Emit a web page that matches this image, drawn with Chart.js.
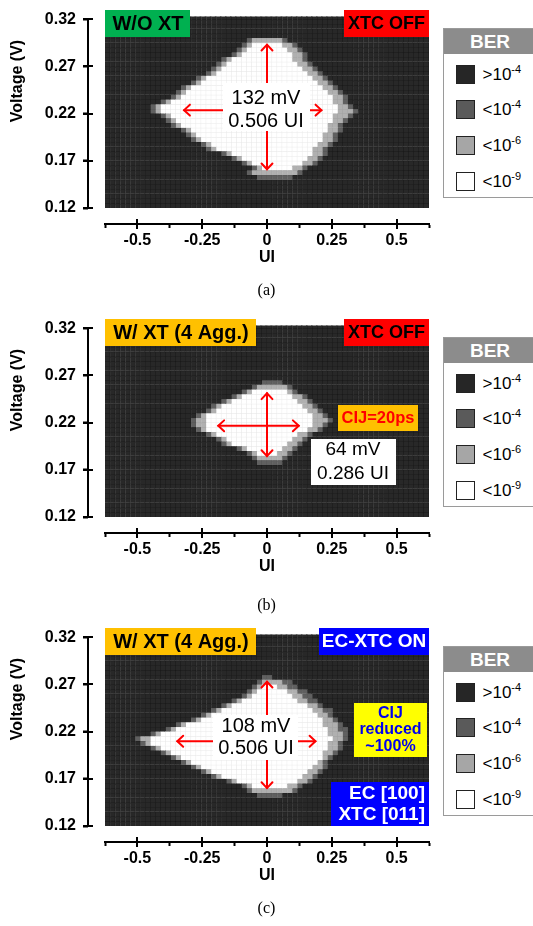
<!DOCTYPE html>
<html>
<head>
<meta charset="utf-8">
<script src="https://cdn.jsdelivr.net/npm/chart.js@4.4.1/dist/chart.umd.min.js"></script>
<style>
  html, body { margin: 0; padding: 0; background: #fff; }
  body { width: 533px; height: 926px; overflow: hidden; position: relative; font-family: "Liberation Sans", Arial, sans-serif; }
  .panel { position: absolute; left: 0; width: 533px; height: 309px; }
  .panel canvas { position: absolute; left: 0; top: 0; }
  .legend { position: absolute; left: 443px; top: 28px; width: 94px; height: 170px; border: 1.5px solid #9a9a9a; box-sizing: border-box; background: #fff; }
  .legend .hd { height: 25px; background: #8c8c8c; color: #fff; font-weight: bold; font-size: 19px; text-align: center; line-height: 26px; }
  .legend .it { position: absolute; left: 0; height: 19px; width: 92px; font-size: 17px; line-height: 19px; color: #000; }
  .legend .sw { position: absolute; left: 11.5px; top: 0; width: 19px; height: 19px; border: 1.5px solid #222; box-sizing: border-box; }
  .legend .tx { position: absolute; left: 38.5px; top: 0; white-space: nowrap; }
  .legend sup { font-size: 11px; vertical-align: 7px; line-height: 0; }
  .cap { position: absolute; left: 0; width: 533px; text-align: center; font-family: "Liberation Serif", serif; font-size: 16px; line-height: 18px; }
</style>
</head>
<body>
<script>
// grid of the BER scan
const nCols = 64;
const vStep = 0.005;
const vMin = 0.12;
const vMax = 0.3228;
const xTicks = [-0.5, -0.25, 0, 0.25, 0.5];
const yTicks = [0.12, 0.17, 0.22, 0.27, 0.32];

// legend
const berSign = ['>', '<', '<', '<'];
const berExp = ['-4', '-4', '-6', '-9'];
const berColor = ['#262626', '#5a5a5a', '#a6a6a6', '#ffffff'];
const cellColor = ['#282828', '#606060', '#b0b0b0', '#ffffff'];
const cellLine = ['#1c1c1c', '#555555', '#a2a2a2', '#e8e8e8'];

// eye rows (row 0 = top, 5 mV each): [row, <1e-4 from, to, <1e-6 from, to, <1e-9 from, to] in columns
const eyeA = [
  [4, 28, 35, 29, 34, null, null],
  [5, 27, 37, 28, 36, 29, 34],
  [6, 26, 38, 27, 37, 28, 35],
  [7, 25, 39, 26, 38, 27, 36],
  [8, 23, 39, 24, 38, 25, 36],
  [9, 22, 40, 23, 39, 24, 37],
  [10, 21, 41, 22, 40, 23, 38],
  [11, 20, 42, 21, 41, 22, 39],
  [12, 18, 43, 19, 42, 20, 40],
  [13, 17, 44, 18, 43, 19, 41],
  [14, 15, 45, 16, 44, 17, 42],
  [15, 14, 46, 15, 45, 16, 43],
  [16, 13, 47, 14, 46, 15, 44],
  [17, 11, 47, 12, 46, 13, 44],
  [18, 9, 48, 10, 47, 11, 45],
  [19, 9, 49, 10, 48, 11, 45],
  [20, 11, 48, 12, 47, 13, 44],
  [21, 12, 47, 13, 46, 14, 44],
  [22, 13, 46, 14, 45, 15, 43],
  [23, 15, 46, 16, 45, 17, 43],
  [24, 16, 45, 17, 44, 18, 42],
  [25, 17, 45, 18, 44, 19, 42],
  [26, 19, 44, 20, 43, 21, 41],
  [27, 20, 43, 21, 42, 22, 40],
  [28, 23, 43, 24, 42, 25, 40],
  [29, 25, 42, 26, 41, 27, 39],
  [30, 27, 41, 28, 40, 29, 38],
  [31, 29, 39, 30, 38, 31, 36],
  [32, 28, 38, 29, 37, null, null],
  [33, 30, 36, null, null, null, null]
];

const eyeB = [
  [11, 31, 34, null, null, null, null],
  [12, 29, 36, 30, 35, null, null],
  [13, 27, 37, 28, 36, 29, 35],
  [14, 25, 39, 26, 38, 27, 36],
  [15, 23, 40, 24, 39, 25, 37],
  [16, 21, 41, 22, 40, 23, 38],
  [17, 20, 42, 21, 41, 22, 39],
  [18, 18, 43, 19, 42, 20, 40],
  [19, 17, 44, 18, 43, 20, 40],
  [20, 17, 43, 18, 42, 20, 40],
  [21, 18, 42, 19, 41, 20, 39],
  [22, 20, 40, 21, 39, 22, 37],
  [23, 22, 39, 23, 38, 24, 36],
  [24, 23, 38, 24, 37, 25, 35],
  [25, 26, 37, 27, 36, 28, 34],
  [26, 28, 36, 29, 35, 30, 33],
  [27, 29, 35, 30, 34, null, null],
  [28, 30, 34, null, null, null, null]
];

const eyeC = [
  [8, 31, 32, null, null, null, null],
  [9, 30, 36, 31, 34, null, null],
  [10, 29, 37, 30, 35, 31, 33],
  [11, 28, 39, 29, 37, 30, 35],
  [12, 27, 40, 28, 38, 29, 36],
  [13, 25, 41, 26, 39, 27, 37],
  [14, 23, 42, 24, 41, 25, 39],
  [15, 21, 44, 22, 42, 23, 40],
  [16, 19, 44, 20, 43, 21, 41],
  [17, 17, 45, 18, 44, 19, 42],
  [18, 14, 46, 15, 45, 16, 42],
  [19, 12, 47, 13, 45, 14, 43],
  [20, 9, 47, 10, 46, 11, 43],
  [21, 6, 47, 7, 46, 9, 44],
  [22, 7, 46, 8, 45, 9, 43],
  [23, 9, 46, 10, 45, 11, 43],
  [24, 11, 45, 12, 44, 13, 42],
  [25, 13, 44, 14, 43, 15, 42],
  [26, 15, 43, 16, 42, 17, 41],
  [27, 17, 43, 18, 42, 19, 40],
  [28, 19, 42, 20, 41, 21, 39],
  [29, 21, 41, 22, 40, 23, 38],
  [30, 24, 40, 25, 39, 26, 37],
  [31, 27, 38, 28, 37, 29, 35],
  [32, 28, 37, 29, 36, null, null],
  [33, 30, 34, null, null, null, null]
];

// measurement arrows [x0 (UI), y0 (V), x1, y1]
const arrowsA = [[-0.32, 0.2237, 0.21, 0.2237], [0, 0.2931, 0, 0.161]];
const arrowsB = [[-0.188, 0.2166, 0.1225, 0.2166], [0, 0.2511, 0, 0.1845]];
const arrowsC = [[-0.346, 0.2098, 0.187, 0.2098], [0, 0.2729, 0, 0.1602]];

const F = '"Liberation Sans", Arial, sans-serif';

const panels = [
  {
    top: 0, eye: eyeA, arrows: arrowsA, caption: '(a)', capY: 281,
    boxes: [
      { x: 105, y: 10, w: 85, h: 27, bg: '#00b050', color: '#000', font: 'bold 20px ' + F, lines: ['W/O XT'], tx: 148, ty: [24] },
      { x: 344, y: 10, w: 85, h: 27, bg: '#ff0000', color: '#000', font: 'bold 18px ' + F, lines: ['XTC OFF'], tx: 386.5, ty: [24] },
      { x: 223, y: 83, w: 87, h: 48, bg: '#ffffff', color: '#000', font: '20px ' + F, lines: ['132 mV', '0.506 UI'], tx: 266, ty: [98, 121] }
    ]
  },
  {
    top: 309, eye: eyeB, arrows: arrowsB, caption: '(b)', capY: 287,
    boxes: [
      { x: 105, y: 10, w: 151, h: 27, bg: '#ffc000', color: '#000', font: 'bold 20px ' + F, lines: ['W/ XT (4 Agg.)'], tx: 181, ty: [24] },
      { x: 344, y: 10, w: 85, h: 27, bg: '#ff0000', color: '#000', font: 'bold 18px ' + F, lines: ['XTC OFF'], tx: 386.5, ty: [24] },
      { x: 338, y: 96, w: 80, h: 26, bg: '#ffc000', color: '#ff0000', font: 'bold 16.5px ' + F, lines: ['CIJ=20ps'], tx: 378, ty: [109] },
      { x: 311, y: 130, w: 85, h: 46, bg: '#ffffff', color: '#000', font: '19px ' + F, lines: ['64 mV', '0.286 UI'], tx: 353, ty: [141, 164.5] }
    ]
  },
  {
    top: 618, eye: eyeC, arrows: arrowsC, caption: '(c)', capY: 281,
    boxes: [
      { x: 105, y: 10, w: 151, h: 27, bg: '#ffc000', color: '#000', font: 'bold 20px ' + F, lines: ['W/ XT (4 Agg.)'], tx: 181, ty: [24] },
      { x: 319, y: 10, w: 110, h: 27, bg: '#0000ff', color: '#fff', font: 'bold 19px ' + F, lines: ['EC-XTC ON'], tx: 374, ty: [24] },
      { x: 213, y: 97, w: 85, h: 45, bg: '#ffffff', color: '#000', font: '20px ' + F, lines: ['108 mV', '0.506 UI'], tx: 256, ty: [108, 130] },
      { x: 354, y: 85, w: 73, h: 54, bg: '#ffff00', color: '#0000ee', font: 'bold 16px ' + F, lines: ['CIJ', 'reduced', '~100%'], tx: 390.5, ty: [95.5, 112, 128.5] },
      { x: 331, y: 164, w: 98, h: 44, bg: '#0000ff', color: '#fff', font: 'bold 19px ' + F, lines: ['EC [100]', 'XTC [011]'], tx: 425, ty: [175.5, 197], align: 'right' }
    ]
  }
];

const colLabels = [];
for (let c = 0; c < nCols; c++) colLabels.push(String(c));

function levelOf(e, c) {
  if (!e) return 0;
  const [, m0, m1, l0, l1, w0, w1] = e;
  if (w0 !== null && c >= w0 && c <= w1) return 3;
  if (l0 !== null && c >= l0 && c <= l1) return 2;
  if (c >= m0 && c <= m1) return 1;
  return 0;
}

function buildDatasets(eye) {
  const sets = [];
  // row -1 is the strip above 0.32 V
  for (let r = -1; r < 40; r++) {
    const hi = 0.32 - r * vStep;
    const lo = hi - vStep;
    const e = eye.find(q => q[0] === r);
    const lv = colLabels.map((_, c) => levelOf(e, c));
    sets.push({
      xAxisID: 'x',
      yAxisID: 'y',
      data: colLabels.map(() => [lo, hi]),
      backgroundColor: lv.map(l => cellColor[l]),
      borderColor: lv.map(l => cellLine[l]),
      borderWidth: { top: 1, right: 1, bottom: 0, left: 0 },
      borderSkipped: false,
      inflateAmount: 0.5,
      grouped: false,
      barPercentage: 1,
      categoryPercentage: 1,
      clip: 0
    });
  }
  return sets;
}

function drawArrow(ctx, x0, y0, x1, y1) {
  const head = 8;
  ctx.beginPath();
  ctx.moveTo(x0, y0);
  ctx.lineTo(x1, y1);
  ctx.stroke();
  [[x0, y0, x1, y1], [x1, y1, x0, y0]].forEach(([ax, ay, bx, by]) => {
    const a = Math.atan2(ay - by, ax - bx);
    ctx.beginPath();
    ctx.moveTo(ax - head * Math.cos(a - 0.75), ay - head * Math.sin(a - 0.75));
    ctx.lineTo(ax, ay);
    ctx.lineTo(ax - head * Math.cos(a + 0.75), ay - head * Math.sin(a + 0.75));
    ctx.stroke();
  });
}

function makeOverlay(p) {
  return {
    id: 'eyeOverlay',
    afterDatasetsDraw(chart) {
      const ctx = chart.ctx;
      const xs = chart.scales.xAxis;
      const ys = chart.scales.y;
      ctx.save();
      ctx.strokeStyle = '#ff0000';
      ctx.lineWidth = 2;
      ctx.lineCap = 'round';
      p.arrows.forEach(a => {
        drawArrow(ctx, xs.getPixelForValue(a[0]), ys.getPixelForValue(a[1]),
          xs.getPixelForValue(a[2]), ys.getPixelForValue(a[3]));
      });
      p.boxes.forEach(b => {
        ctx.fillStyle = b.bg;
        ctx.fillRect(b.x, b.y, b.w, b.h);
        ctx.fillStyle = b.color;
        ctx.font = b.font;
        ctx.textAlign = b.align || 'center';
        ctx.textBaseline = 'middle';
        b.lines.forEach((t, i) => ctx.fillText(t, b.tx, b.ty[i]));
      });
      ctx.restore();
    },
    afterDraw(chart) {
      const ctx = chart.ctx;
      const area = chart.chartArea;
      const xa = chart.scales.xAxis;
      const ya = chart.scales.yAxis;
      const ax = Math.round(xa.top);
      const ay = Math.round(ya.right);
      const yTop = Math.round(ya.getPixelForValue(yTicks[yTicks.length - 1]));
      ctx.save();
      ctx.fillStyle = '#000';
      // axis lines with crossing tick marks
      ctx.fillRect(area.left - 1, ax - 1, area.right - area.left + 2, 2);
      ctx.fillRect(ay - 1, yTop - 1, 2, area.bottom - yTop + 2);
      xa.ticks.forEach(t => {
        const px = Math.round(xa.getPixelForValue(t.value));
        ctx.fillRect(px - 1, ax - 5, 2, 10);
      });
      ya.ticks.forEach(t => {
        const py = Math.round(ya.getPixelForValue(t.value));
        ctx.fillRect(ay - 5, py - 1, 10, 2);
      });
      ctx.font = 'bold 16px ' + F;
      ctx.textAlign = 'center';
      ctx.textBaseline = 'middle';
      ctx.translate(18, 81);
      ctx.rotate(-Math.PI / 2);
      ctx.fillText('Voltage (V)', 0, 0);
      ctx.restore();
    }
  };
}

const tickFont = { family: F, size: 16, weight: 'bold' };

panels.forEach(p => {
  const wrap = document.createElement('div');
  wrap.className = 'panel';
  wrap.style.top = p.top + 'px';
  document.body.appendChild(wrap);

  const canvas = document.createElement('canvas');
  canvas.width = 533;
  canvas.height = 309;
  wrap.appendChild(canvas);

  // legend
  const lg = document.createElement('div');
  lg.className = 'legend';
  lg.innerHTML = '<div class="hd">BER</div>';
  berSign.forEach((s, i) => {
    const it = document.createElement('div');
    it.className = 'it';
    it.style.top = (35.5 + i * 35.7) + 'px';
    it.innerHTML = '<span class="sw" style="background:' + berColor[i] + '"></span>' +
      '<span class="tx">' + (s === '>' ? '&gt;' : '&lt;') + '10<sup>' + berExp[i] + '</sup></span>';
    lg.appendChild(it);
  });
  wrap.appendChild(lg);

  const cap = document.createElement('div');
  cap.className = 'cap';
  cap.style.top = p.capY + 'px';
  cap.textContent = p.caption;
  wrap.appendChild(cap);

  new Chart(canvas, {
    type: 'bar',
    data: { labels: colLabels, datasets: buildDatasets(p.eye) },
    options: {
      responsive: false,
      animation: false,
      events: [],
      layout: { padding: { top: 10, right: 104, bottom: 42, left: 0 } },
      plugins: { legend: { display: false }, tooltip: { enabled: false } },
      scales: {
        x: { type: 'category', display: false },
        y: { type: 'linear', display: false, min: vMin, max: vMax },
        xGap: {
          type: 'linear', position: 'bottom', weight: 0,
          grid: { display: false }, border: { display: false }, ticks: { display: false },
          afterFit: s => { s.height = 16; }
        },
        xAxis: {
          type: 'linear', position: 'bottom', weight: 1, min: -0.5, max: 0.5,
          afterBuildTicks: s => { s.ticks = xTicks.map(v => ({ value: v })); },
          ticks: { callback: v => String(v), font: tickFont, color: '#000', padding: 3, maxRotation: 0, autoSkip: false },
          grid: { display: true, drawOnChartArea: false, tickLength: 4, tickWidth: 2, tickColor: '#000' },
          border: { display: true, width: 2, color: '#000' },
          title: { display: true, text: 'UI', font: tickFont, color: '#000', padding: 0 },
          afterFit: s => { s.height = 43; }
        },
        yGap: {
          type: 'linear', position: 'left', weight: 0,
          grid: { display: false }, border: { display: false }, ticks: { display: false },
          afterFit: s => { s.width = 17; }
        },
        yAxis: {
          type: 'linear', position: 'left', weight: 1, min: vMin, max: vMax,
          afterBuildTicks: s => { s.ticks = yTicks.map(v => ({ value: v })); },
          ticks: { callback: v => v.toFixed(2), font: tickFont, color: '#000', padding: 7, autoSkip: false },
          grid: { display: true, drawOnChartArea: false, tickLength: 5, tickWidth: 2, tickColor: '#000' },
          border: { display: false },
          afterFit: s => { s.width = 88; }
        }
      }
    },
    plugins: [makeOverlay(p)]
  });
});
</script>
</body>
</html>
